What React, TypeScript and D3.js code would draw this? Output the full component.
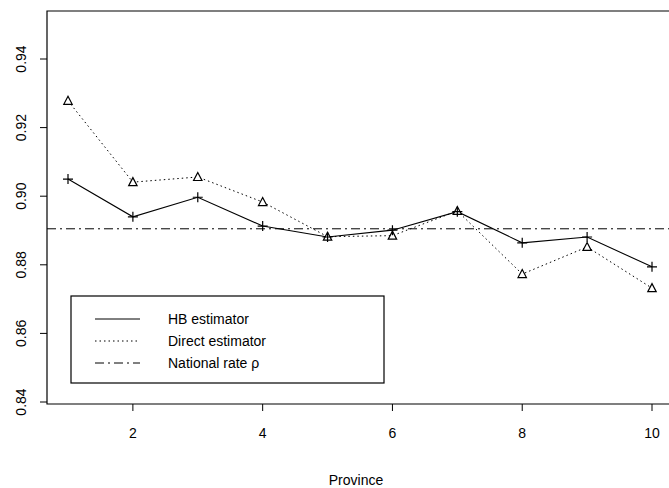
import React, { useEffect, useRef } from 'react';
import * as d3 from 'd3';

const provinces = [1, 2, 3, 4, 5, 6, 7, 8, 9, 10];
const hbEstimator = [0.905, 0.894, 0.8997, 0.8913, 0.8881, 0.8901, 0.8955, 0.8864, 0.8881, 0.8794];
const directEstimator = [0.9278, 0.9041, 0.9056, 0.8983, 0.8882, 0.8885, 0.8957, 0.8773, 0.8852, 0.8732];
const nationalRate = 0.8905;
const xTicks = [2, 4, 6, 8, 10];
const yTicks = [0.84, 0.86, 0.88, 0.9, 0.92, 0.94];
const legendLabels = ['HB estimator', 'Direct estimator', 'National rate ρ'];

const width = 669;
const height = 488;
const frame = { left: 47, right: 669, top: 11, bottom: 404 };
const font = 'Liberation Sans, Arial, sans-serif';

function App() {
  const ref = useRef<SVGSVGElement>(null);

  useEffect(() => {
    const svg = d3.select(ref.current);
    svg.selectAll('*').remove();

    const x = d3.scaleLinear().domain([1, 10]).range([68, 652]);
    const y = d3.scaleLinear().domain([0.84, 0.94]).range([402, 59]);

    // frame: left, top and bottom sides only
    svg
      .append('path')
      .attr('d', `M${frame.right},${frame.top}H${frame.left}V${frame.bottom}H${frame.right}`)
      .attr('fill', 'none')
      .attr('stroke', '#000')
      .attr('stroke-width', 1.2);

    // y axis
    const yAxis = svg.append('g').attr('transform', `translate(${frame.left},0)`);
    yAxis
      .selectAll('line')
      .data(yTicks)
      .join('line')
      .attr('x1', -7)
      .attr('x2', 0)
      .attr('y1', (d) => y(d))
      .attr('y2', (d) => y(d))
      .attr('stroke', '#000');
    yAxis
      .selectAll('text')
      .data(yTicks)
      .join('text')
      .attr('transform', (d) => `translate(-21,${y(d)}) rotate(-90)`)
      .attr('text-anchor', 'middle')
      .attr('font-family', font)
      .attr('font-size', 14)
      .text((d) => d3.format('.2f')(d));

    // x axis
    const xAxis = svg.append('g').attr('transform', `translate(0,${frame.bottom})`);
    xAxis
      .selectAll('line')
      .data(xTicks)
      .join('line')
      .attr('x1', (d) => x(d))
      .attr('x2', (d) => x(d))
      .attr('y1', 0)
      .attr('y2', 7)
      .attr('stroke', '#000');
    xAxis
      .selectAll('text')
      .data(xTicks)
      .join('text')
      .attr('x', (d) => x(d))
      .attr('y', 34)
      .attr('text-anchor', 'middle')
      .attr('font-family', font)
      .attr('font-size', 14)
      .text((d) => d);

    svg
      .append('text')
      .attr('x', 356)
      .attr('y', 485)
      .attr('text-anchor', 'middle')
      .attr('font-family', font)
      .attr('font-size', 14)
      .text('Province');

    // national rate
    svg
      .append('line')
      .attr('x1', frame.left)
      .attr('x2', frame.right)
      .attr('y1', y(nationalRate))
      .attr('y2', y(nationalRate))
      .attr('stroke', '#000')
      .attr('stroke-dasharray', '9,4,2,4');

    const line = d3
      .line<number>()
      .x((_, i) => x(provinces[i]))
      .y((d) => y(d));

    svg
      .append('path')
      .datum(directEstimator)
      .attr('d', line)
      .attr('fill', 'none')
      .attr('stroke', '#000')
      .attr('stroke-dasharray', '1.5,3');

    svg
      .append('path')
      .datum(hbEstimator)
      .attr('d', line)
      .attr('fill', 'none')
      .attr('stroke', '#000')
      .attr('stroke-width', 1.1);

    // triangles for direct estimator
    svg
      .append('g')
      .selectAll('path')
      .data(directEstimator)
      .join('path')
      .attr('transform', (d, i) => `translate(${x(provinces[i])},${y(d)})`)
      .attr('d', 'M0,-4.5L4.2,3.5L-4.2,3.5Z')
      .attr('fill', '#fff')
      .attr('stroke', '#000')
      .attr('stroke-width', 1.2);

    // plus signs for HB estimator
    svg
      .append('g')
      .selectAll('path')
      .data(hbEstimator)
      .join('path')
      .attr('transform', (d, i) => `translate(${x(provinces[i])},${y(d)})`)
      .attr('d', 'M-5,0H5M0,-5V5')
      .attr('stroke', '#000')
      .attr('stroke-width', 1.2);

    // legend
    const legend = svg.append('g');
    legend
      .append('rect')
      .attr('x', 71)
      .attr('y', 296)
      .attr('width', 313)
      .attr('height', 87)
      .attr('fill', '#fff')
      .attr('stroke', '#000')
      .attr('stroke-width', 1.2);
    const dashes = ['none', '1.5,3', '9,4,2,4'];
    legendLabels.forEach((label, i) => {
      const ly = 319 + i * 22;
      legend
        .append('line')
        .attr('x1', 95)
        .attr('x2', 140)
        .attr('y1', ly)
        .attr('y2', ly)
        .attr('stroke', '#000')
        .attr('stroke-dasharray', dashes[i]);
      legend
        .append('text')
        .attr('x', 168)
        .attr('y', ly + 5)
        .attr('font-family', font)
        .attr('font-size', 14)
        .text(label);
    });
  }, []);

  return (
    <svg
      ref={ref}
      width={width}
      height={height}
      style={{ position: 'absolute', left: 0, top: 0, background: '#fff' }}
    />
  );
}

export default App;
